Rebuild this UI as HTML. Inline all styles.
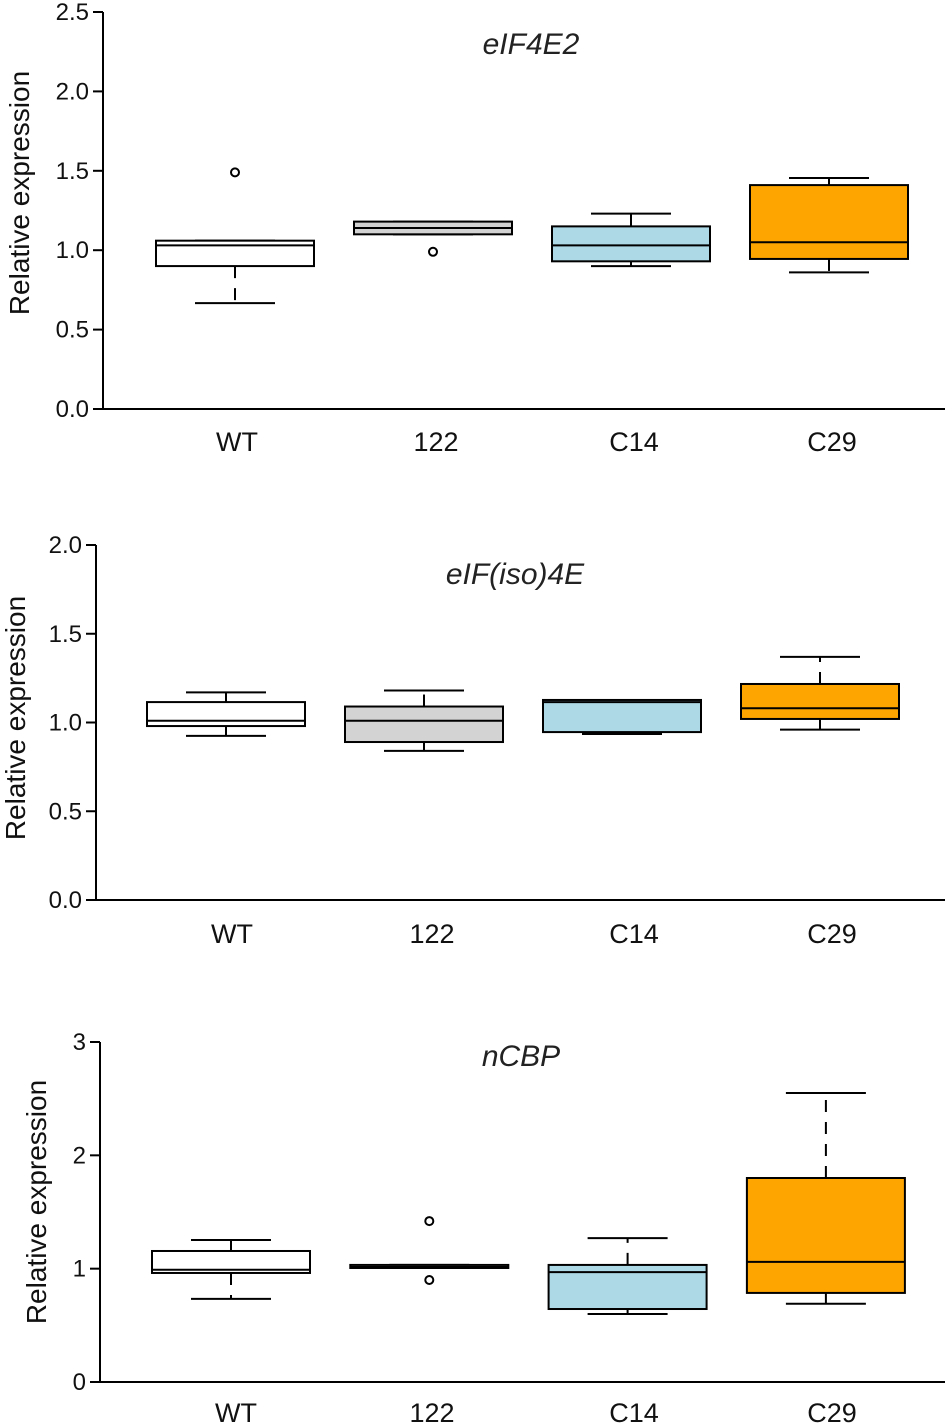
<!DOCTYPE html>
<html><head><meta charset="utf-8">
<style>
html,body{margin:0;padding:0;background:#fff;}
svg{display:block;font-family:"Liberation Sans",Arial,sans-serif;}
</style></head>
<body>
<svg id="chart" width="950" height="1427" viewBox="0 0 950 1427" xmlns="http://www.w3.org/2000/svg"></svg>
<script>
const categories = ["WT","122","C14","C29"];
const fills = ["#ffffff","#d3d3d3","#add8e6","#ffa500"];
// per panel: [lowWhisker, q1, median, q3, highWhisker] for each category
const p1Stats = [[0.667,0.90,1.03,1.06,1.06],[1.10,1.10,1.14,1.18,1.18],[0.90,0.93,1.03,1.15,1.23],[0.86,0.945,1.05,1.41,1.455]];
const p1Outliers = [[1.49],[0.99],[],[]];
const p1Ticks = [0,0.5,1.0,1.5,2.0,2.5];
const p1TickLabels = ["0.0","0.5","1.0","1.5","2.0","2.5"];
const p2Stats = [[0.925,0.98,1.01,1.115,1.17],[0.84,0.89,1.01,1.09,1.18],[0.935,0.946,1.115,1.127,1.127],[0.96,1.02,1.08,1.217,1.37]];
const p2Outliers = [[],[],[],[]];
const p2Ticks = [0,0.5,1.0,1.5,2.0];
const p2TickLabels = ["0.0","0.5","1.0","1.5","2.0"];
const p3Stats = [[0.733,0.962,0.99,1.156,1.253],[1.006,1.006,1.015,1.033,1.033],[0.60,0.644,0.97,1.033,1.27],[0.69,0.786,1.06,1.80,2.55]];
const p3Outliers = [[],[1.42,0.90],[],[]];
const p3Ticks = [0,1,2,3];
const p3TickLabels = ["0","1","2","3"];

const panels = [
 {name:"eif4e2",title:"eIF4E2",stats:p1Stats,out:p1Outliers,ticks:p1Ticks,tl:p1TickLabels,ax:103,y0:409,yTop:12,max:2.5,c0:235,step:198,labX:[237,436,634,832],titleX:531,titleY:54,xlabY:451,ylabX:29,ylabY:193},
 {name:"eifiso4e",title:"eIF(iso)4E",stats:p2Stats,out:p2Outliers,ticks:p2Ticks,tl:p2TickLabels,ax:96,y0:900,yTop:545,max:2.0,c0:226,step:198,labX:[232,432,634,832],titleX:515,titleY:584,xlabY:943,ylabX:25,ylabY:718},
 {name:"ncbp",title:"nCBP",stats:p3Stats,out:p3Outliers,ticks:p3Ticks,tl:p3TickLabels,ax:100,y0:1382,yTop:1042,max:3,c0:231,step:198.3,labX:[236,432,634,832],titleX:521,titleY:1066,xlabY:1422,ylabX:46,ylabY:1202}
];
const svg = document.getElementById('chart');
const NS = "http://www.w3.org/2000/svg";
function mk(tag, attrs, parent){
  const e = document.createElementNS(NS, tag);
  for (const k in attrs) e.setAttribute(k, attrs[k]);
  parent.appendChild(e);
  return e;
}
panels.forEach((p, pi) => {
  const g = mk('g', {}, svg);
  
  
  const y = v => p.y0 - (v / p.max) * (p.y0 - p.yTop);
  const x = i => p.c0 + i * p.step;
  const ya = mk('line', {x1:p.ax,y1:p.yTop,x2:p.ax,y2:p.y0,stroke:'#000','stroke-width':2}, g);
  
  
  const xa = mk('line', {x1:p.ax,y1:p.y0,x2:945,y2:p.y0,stroke:'#000','stroke-width':2}, g);
  
  
  p.ticks.forEach((t, i) => {
    mk('line', {x1:p.ax-10,y1:y(t),x2:p.ax,y2:y(t),stroke:'#000','stroke-width':2}, g);
    const tx = mk('text', {x:p.ax-14,y:y(t)+8,'text-anchor':'end','font-size':24,fill:'#111'}, g);
    tx.textContent = p.tl[i];
    
    
  });
  const yl = mk('text', {x:p.ylabX,y:p.ylabY,'text-anchor':'middle','font-size':28,fill:'#111',transform:`rotate(-90 ${p.ylabX} ${p.ylabY})`}, g);
  yl.textContent = 'Relative expression';
  
  
  const tt = mk('text', {x:p.titleX,y:p.titleY,'text-anchor':'middle','font-size':30,'font-style':'italic',fill:'#222'}, g);
  tt.textContent = p.title;
  
  
  categories.forEach((c, i) => {
    const cx = x(i);
    const lab = mk('text', {x:p.labX[i],y:p.xlabY,'text-anchor':'middle','font-size':27,fill:'#111'}, g);
    lab.textContent = c;
    
    
    const s = p.stats[i];
    const bw = 79, cw = 40;
    const bg = mk('g', {}, g);
    
    
    if (s[0] < s[1]) {
      mk('line', {x1:cx,y1:y(s[1]),x2:cx,y2:y(s[0]),stroke:'#000','stroke-width':2,'stroke-dasharray':'12,10'}, bg);
    }
    mk('line', {x1:cx-cw,y1:y(s[0]),x2:cx+cw,y2:y(s[0]),stroke:'#000','stroke-width':2}, bg);
    if (s[4] > s[3]) {
      mk('line', {x1:cx,y1:y(s[3]),x2:cx,y2:y(s[4]),stroke:'#000','stroke-width':2,'stroke-dasharray':'12,10'}, bg);
    }
    mk('line', {x1:cx-cw,y1:y(s[4]),x2:cx+cw,y2:y(s[4]),stroke:'#000','stroke-width':2}, bg);
    mk('rect', {x:cx-bw,y:y(s[3]),width:2*bw,height:Math.max(1,y(s[1])-y(s[3])),fill:fills[i],stroke:'#000','stroke-width':2}, bg);
    mk('line', {x1:cx-bw,y1:y(s[2]),x2:cx+bw,y2:y(s[2]),stroke:'#000','stroke-width':2}, bg);
    p.out[i].forEach(o => {
      const oc = mk('circle', {cx:cx,cy:y(o),r:4,fill:'none',stroke:'#000','stroke-width':2}, bg);
      
      
    });
  });
});
</script>
</body></html>
